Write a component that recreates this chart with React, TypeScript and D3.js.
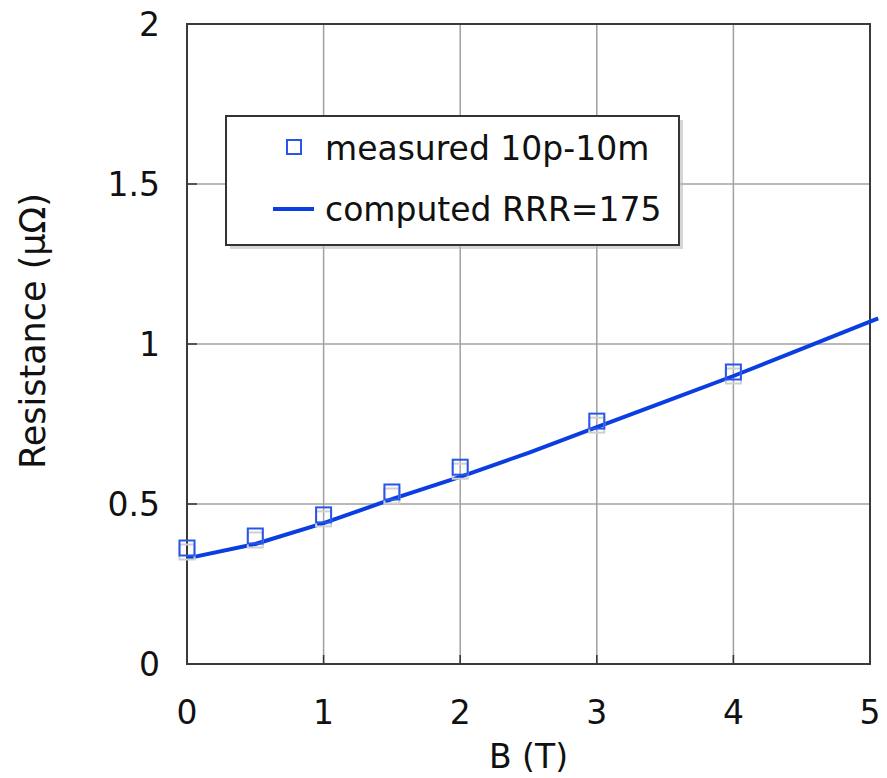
import React, {useEffect} from 'react';
import * as d3 from 'd3';

// measured points, B in tesla and resistance in micro-ohm
const measuredB = [0, 0.5, 1, 1.5, 2, 3, 4]
const measuredR = [0.3625, 0.40, 0.466, 0.5375, 0.615, 0.759, 0.9125]

// computed curve RRR=175
const computedB = [0, 0.5, 1, 1.5, 2, 2.5, 3, 3.5, 4, 4.5, 5, 5.06]
const computedR = [0.33, 0.375, 0.44, 0.515, 0.585, 0.66, 0.74, 0.82, 0.9, 0.985, 1.07, 1.08]

const xTicks = [0, 1, 2, 3, 4, 5]
const yTicks = [0, 0.5, 1, 1.5, 2]
const yTickLabels = ['0', '0.5', '1', '1.5', '2']

const legendLabels = ['measured 10p-10m', 'computed RRR=175']

const App = () => {

    useEffect(() => {
        document.body.style.margin = '0'
    }, [])

    const width = 887
    const height = 778

    let dimensions = {
        margin: {top: 24, right: 17, bottom: 114, left: 187}
    }
    const innerW = width - dimensions.margin.left - dimensions.margin.right
    const innerH = height - dimensions.margin.top - dimensions.margin.bottom

    const xScale = d3.scaleLinear().domain([0, 5]).range([0, innerW])
    const yScale = d3.scaleLinear().domain([0, 2]).range([innerH, 0])

    const lineGen = d3.line<number>()
        .x((d, i) => xScale(computedB[i]))
        .y(d => yScale(d))

    const font = '"DejaVu Sans", Verdana, sans-serif'
    const blue = '#0a3ee0'
    const markerBlue = '#2756ec'
    const ms = 15

    return (
        <svg width={width} height={height} style={{display: 'block', fontFamily: font}}>
            <rect width={width} height={height} fill='#fff'/>
            <g transform={`translate(${dimensions.margin.left},${dimensions.margin.top})`}>
                {/* grid */}
                {xTicks.slice(1, -1).map(t => (
                    <line key={'gx' + t} x1={xScale(t)} x2={xScale(t)} y1={0} y2={innerH} stroke='#a0a0a0' strokeWidth={1.5}/>
                ))}
                {yTicks.slice(1, -1).map(t => (
                    <line key={'gy' + t} x1={0} x2={innerW} y1={yScale(t)} y2={yScale(t)} stroke='#a0a0a0' strokeWidth={1.5}/>
                ))}
                {/* small ticks inside */}
                {xTicks.slice(1, -1).map(t => (
                    <line key={'tx' + t} x1={xScale(t)} x2={xScale(t)} y1={innerH} y2={innerH - 9} stroke='#333' strokeWidth={1.5}/>
                ))}
                {yTicks.slice(1, -1).map(t => (
                    <line key={'ty' + t} x1={0} x2={10} y1={yScale(t)} y2={yScale(t)} stroke='#333' strokeWidth={1.5}/>
                ))}
                <rect x={0} y={0} width={innerW} height={innerH} fill='none' stroke='#3a3a3a' strokeWidth={2}/>

                {/* tick labels */}
                {xTicks.map(t => (
                    <text key={'lx' + t} x={xScale(t)} y={innerH + 60} textAnchor='middle' fontSize={33} fill='#111'>{t}</text>
                ))}
                {yTicks.map((t, i) => (
                    <text key={'ly' + t} x={-27} y={yScale(t)} dy='0.36em' textAnchor='end' fontSize={33} fill='#111'>{yTickLabels[i]}</text>
                ))}

                {/* axis titles */}
                <text x={xScale(2.5)} y={innerH + 104} textAnchor='middle' fontSize={33} fill='#111'>B (T)</text>
                <text transform={`translate(${-142},${yScale(1.0) - 13}) rotate(-90)`} textAnchor='middle' fontSize={35} fill='#111'>Resistance (μΩ)</text>

                {/* computed line */}
                <path d={lineGen(computedR) || ''} fill='none' stroke={blue} strokeWidth={4} strokeLinejoin='round'/>

                {/* measured markers with shadow */}
                {measuredR.map((r, i) => (
                    <g key={'m' + i}>
                        <rect x={xScale(measuredB[i]) - ms / 2} y={yScale(r) - ms / 2 + 4} width={ms} height={ms} fill='none' stroke='#cfcfcf' strokeWidth={2}/>
                        <rect x={xScale(measuredB[i]) - ms / 2} y={yScale(r) - ms / 2} width={ms} height={ms} fill='none' stroke={markerBlue} strokeWidth={2}/>
                    </g>
                ))}

                {/* legend */}
                <g transform={`translate(${226 - dimensions.margin.left},${116 - dimensions.margin.top})`}>
                    <rect x={4} y={4} width={453} height={129} fill='#bbb' opacity={0.6}/>
                    <rect x={0} y={0} width={453} height={129} fill='#fff' stroke='#333' strokeWidth={2}/>
                    <rect x={68 - 7} y={31 - 7} width={14} height={14} fill='none' stroke={markerBlue} strokeWidth={2}/>
                    <text x={99} y={44} fontSize={33} fill='#111'>{legendLabels[0]}</text>
                    <line x1={47} x2={88} y1={93} y2={93} stroke={blue} strokeWidth={4}/>
                    <text x={99} y={105} fontSize={33} fill='#111'>{legendLabels[1]}</text>
                </g>
            </g>
        </svg>
    )
}

export default App;
